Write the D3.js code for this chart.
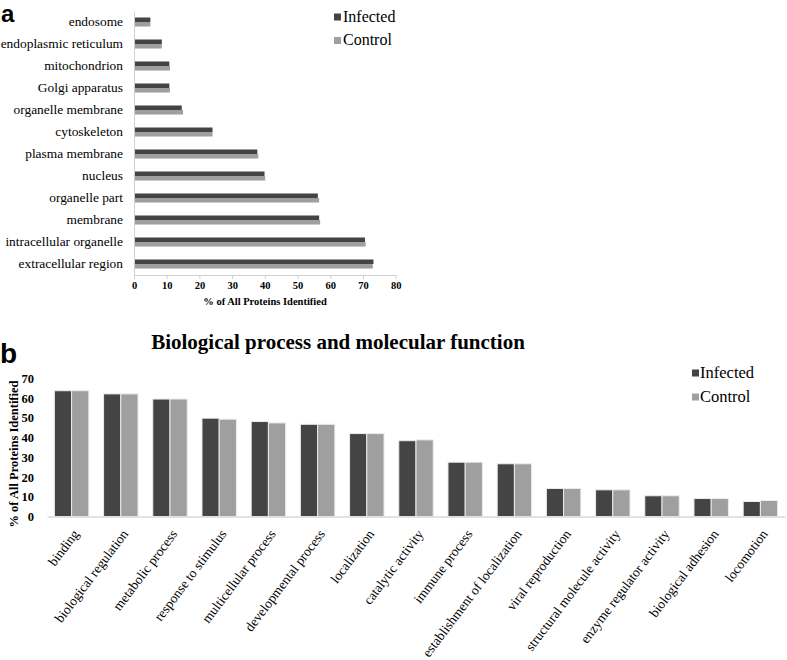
<!DOCTYPE html>
<html><head><meta charset="utf-8">
<script src="https://cdn.jsdelivr.net/npm/d3@7"></script>
<style>
body{margin:0;background:#fff;}
svg{display:block;}
</style></head>
<body><svg id="c" width="787" height="660"></svg>
<script>
// ---- Panel a data (cellular component) ----
const categoriesA = ["endosome","endoplasmic reticulum","mitochondrion","Golgi apparatus","organelle membrane","cytoskeleton","plasma membrane","nucleus","organelle part","membrane","intracellular organelle","extracellular region"];
const infectedA = [5, 8.5, 10.8, 10.8, 14.6, 24, 37.7, 39.9, 56.2, 56.6, 70.6, 73.2];
const controlA  = [5, 8.5, 11, 11, 15, 24, 38, 40.1, 56.6, 56.9, 70.8, 73];
const ticksA = [0,10,20,30,40,50,60,70,80];

// ---- Panel b data (biological process and molecular function) ----
const categoriesB = ["binding","biological regulation","metabolic process","response to stimulus","multicellular process","developmental process","localization","catalytic activity","immune process","establishment of localization","viral reproduction","structural molecule activity","enzyme regulator activity","biological adhesion","locomotion"];
const infectedB = [63.7, 62.1, 59.5, 49.8, 48.1, 46.7, 42, 38.4, 27.5, 26.7, 14.2, 13.5, 10.5, 9.1, 7.6];
const controlB  = [63.7, 62.1, 59.5, 49.3, 47.4, 46.7, 42, 38.8, 27.5, 26.7, 14.2, 13.5, 10.5, 9.1, 8.1];
const ticksB = [0,10,20,30,40,50,60,70];

const seriesNames = ["Infected","Control"];
const colors = {Infected:"#444444", Control:"#9f9f9f"};
const axisColor = "#cfcfcf";
const SERIF = "'Liberation Serif','Times New Roman',serif";
const SANS = "'Liberation Sans',Arial,sans-serif";

const svg = d3.select("#c");

// ================= Panel a =================
const gA = svg.append("g");
const xA = d3.scaleLinear().domain([0,80]).range([134, 395.7]);
const yA = d3.scaleBand().domain(categoriesA).range([11, 275]).paddingInner(0.59).paddingOuter(0.295);
const subA = d3.scaleBand().domain(seriesNames).range([0, yA.bandwidth()]);
const rowsA = categoriesA.map((c,i)=>({cat:c, Infected:infectedA[i], Control:controlA[i]}));

const rowG = gA.selectAll("g.row").data(rowsA).join("g").attr("class","row")
  .attr("transform", d=>`translate(0,${yA(d.cat)})`);
rowG.selectAll("rect").data(d=>seriesNames.map(s=>({s, v:d[s]}))).join("rect")
  .attr("x", xA(0)).attr("y", d=>subA(d.s)).attr("height", subA.bandwidth())
  .attr("width", d=>xA(d.v)-xA(0)).attr("fill", d=>colors[d.s]);

// x axis
const xAxisA = gA.append("g").attr("transform","translate(0,275)")
  .call(d3.axisBottom(xA).tickValues(ticksA).tickSize(4).tickPadding(3).tickSizeOuter(0));
xAxisA.selectAll("path,line").attr("stroke", axisColor);
xAxisA.selectAll("text").style("font-size","10.5px").style("font-weight","bold")
  .style("font-family",SERIF).attr("fill","#000");
// y axis
const yAxisA = gA.append("g").attr("transform","translate(134,0)")
  .call(d3.axisLeft(yA).tickSize(0).tickPadding(11).tickSizeOuter(0));
yAxisA.select("path").attr("stroke", axisColor);
yAxisA.selectAll("text").style("font-size","13.4px").style("font-family",SERIF).attr("fill","#000");

gA.append("text").attr("x",265).attr("y",305).attr("text-anchor","middle")
  .style("font-family",SERIF).style("font-size","10.5px").style("font-weight","bold")
  .text("% of All Proteins Identified");

// legend a
const legA = gA.selectAll("g.leg").data(seriesNames).join("g").attr("class","leg")
  .attr("transform",(d,i)=>`translate(334,${21.5 + i*23.5})`);
legA.append("rect").attr("x",0).attr("y",-8).attr("width",7).attr("height",7).attr("fill",d=>colors[d]);
legA.append("text").attr("x",9).attr("y",0).style("font-family",SERIF).style("font-size","16px").text(d=>d);

svg.append("text").attr("x",1).attr("y",22).style("font-family",SANS)
  .style("font-weight","bold").style("font-size","24px").text("a");

// ================= Panel b =================
const gB = svg.append("g");
const xB = d3.scaleBand().domain(categoriesB).range([47, 785]).paddingInner(0.3).paddingOuter(0.15);
const subB = d3.scaleBand().domain(seriesNames).range([0, xB.bandwidth()]);
const yB = d3.scaleLinear().domain([0,70]).range([516.5, 378.3]);
const rowsB = categoriesB.map((c,i)=>({cat:c, Infected:infectedB[i], Control:controlB[i]}));

const colG = gB.selectAll("g.col").data(rowsB).join("g").attr("class","col")
  .attr("transform", d=>`translate(${xB(d.cat)},0)`);
colG.selectAll("rect").data(d=>seriesNames.map(s=>({s, v:d[s]}))).join("rect")
  .attr("x", d=>subB(d.s)).attr("width", subB.bandwidth())
  .attr("y", d=>yB(d.v)).attr("height", d=>yB(0)-yB(d.v))
  .attr("fill", d=>colors[d.s]).attr("stroke","#ececec").attr("stroke-width",1);

// baseline / x axis
const xAxisB = gB.append("g").attr("transform",`translate(0,${yB(0)})`)
  .call(d3.axisBottom(xB).tickSize(0).tickSizeOuter(0).tickFormat(""));
xAxisB.select("path").attr("stroke","#d9d9d9").attr("stroke-width",1.5);
// rotated category labels
gB.selectAll("text.xl").data(categoriesB).join("text").attr("class","xl")
  .attr("transform", d=>`translate(${xB(d)+xB.bandwidth()/2+8},534) rotate(-53)`)
  .attr("text-anchor","end").style("font-family",SERIF).style("font-size","13.5px").text(d=>d);

// y axis
const yAxisB = gB.append("g").attr("transform","translate(34,0)")
  .call(d3.axisLeft(yB).tickValues(ticksB).tickSize(0).tickPadding(0));
yAxisB.select("path").remove();
yAxisB.selectAll("text").style("font-size","12.5px").style("font-weight","bold")
  .style("font-family",SERIF).attr("fill","#000");

gB.append("text").attr("transform","translate(18,454) rotate(-90)").attr("text-anchor","middle")
  .style("font-family",SERIF).style("font-size","12.5px").style("font-weight","bold")
  .text("% of All Proteins Identified");

gB.append("text").attr("x",338).attr("y",349).attr("text-anchor","middle")
  .style("font-family",SERIF).style("font-size","21px").style("font-weight","bold")
  .text("Biological process and molecular function");

const legB = gB.selectAll("g.leg").data(seriesNames).join("g").attr("class","leg")
  .attr("transform",(d,i)=>`translate(692,${377.5 + i*24})`);
legB.append("rect").attr("x",0).attr("y",-8).attr("width",7).attr("height",7).attr("fill",d=>colors[d]);
legB.append("text").attr("x",8).attr("y",0).style("font-family",SERIF).style("font-size","16.5px").text(d=>d);

svg.append("text").attr("x",0).attr("y",363).style("font-family",SANS)
  .style("font-weight","bold").style("font-size","28px").text("b");
</script></body></html>
